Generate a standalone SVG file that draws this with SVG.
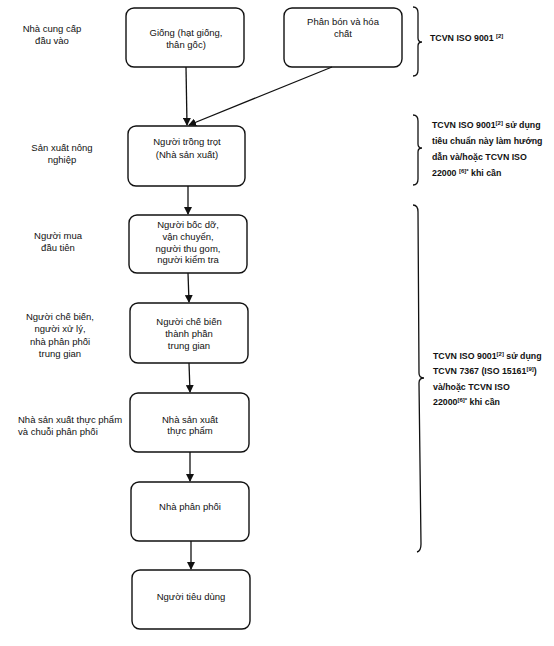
<svg xmlns="http://www.w3.org/2000/svg" width="554" height="646" viewBox="0 0 554 646">
<style>
.box{fill:#fff;stroke:#111;stroke-width:1.4}
.t{font-family:"Liberation Sans",Arial,sans-serif;font-size:9.5px;fill:#111;text-anchor:middle}
.l{font-family:"Liberation Sans",Arial,sans-serif;font-size:9.5px;fill:#111}
.b{font-family:"Liberation Sans",Arial,sans-serif;font-size:8.8px;font-weight:bold;fill:#111}
.s{font-size:6px}
.c{fill:none;stroke:#111;stroke-width:1.3}
.br{fill:none;stroke:#111;stroke-width:1.3}
</style>
<defs>
<marker id="ah" markerWidth="8" markerHeight="8" refX="7" refY="4" orient="auto" markerUnits="userSpaceOnUse">
<path d="M0,0 L8,4 L0,8 Z" fill="#111"/>
</marker>
</defs>

<g id="labels">
<text class="t" x="52" y="32">Nhà cung cấp</text>
<text class="t" x="52" y="44">đầu vào</text>
<text class="t" x="62" y="151">Sản xuất nông</text>
<text class="t" x="62" y="163">nghiệp</text>
<text class="t" x="58" y="239">Người mua</text>
<text class="t" x="58" y="251">đầu tiên</text>
<text class="t" x="60" y="320">Người chế biến,</text>
<text class="t" x="60" y="332">người xử lý,</text>
<text class="t" x="60" y="345">nhà phân phối</text>
<text class="t" x="60" y="357">trung gian</text>
<text class="l" x="18" y="423">Nhà sản xuất thực phẩm</text>
<text class="l" x="18" y="435">và chuỗi phân phối</text>
</g>

<g id="n1">
<rect class="box" x="126" y="8" width="118" height="59" rx="8"/>
<text class="t" x="186" y="36">Giống (hạt giống,</text>
<text class="t" x="186" y="48">thân gốc)</text>
</g>
<g id="n2">
<rect class="box" x="284" y="8" width="118" height="59" rx="8"/>
<text class="t" x="343" y="25">Phân bón và hóa</text>
<text class="t" x="343" y="37">chất</text>
</g>
<g id="n3">
<rect class="box" x="128" y="126" width="117" height="60" rx="8"/>
<text class="t" x="187" y="145">Người trồng trọt</text>
<text class="t" x="187" y="158">(Nhà sản xuất)</text>
</g>
<g id="n4">
<rect class="box" x="129" y="215" width="118" height="58" rx="8"/>
<text class="t" x="188" y="228">Người bốc dỡ,</text>
<text class="t" x="188" y="240">vận chuyển,</text>
<text class="t" x="188" y="252">người thu gom,</text>
<text class="t" x="188" y="263">người kiểm tra</text>
</g>
<g id="n5">
<rect class="box" x="130" y="303" width="118" height="60" rx="8"/>
<text class="t" x="189" y="325">Người chế biến</text>
<text class="t" x="189" y="337">thành phần</text>
<text class="t" x="189" y="349">trung gian</text>
</g>
<g id="n6">
<rect class="box" x="130" y="393" width="119" height="59" rx="8"/>
<text class="t" x="190" y="423">Nhà sản xuất</text>
<text class="t" x="190" y="434">thực phẩm</text>
</g>
<g id="n7">
<rect class="box" x="131" y="482" width="118" height="59" rx="8"/>
<text class="t" x="190" y="510">Nhà phân phối</text>
</g>
<g id="n8">
<rect class="box" x="132" y="570" width="118" height="59" rx="8"/>
<text class="t" x="191" y="600">Người tiêu dùng</text>
</g>

<g id="connectors">
<line class="c" x1="186" y1="67" x2="187" y2="125" marker-end="url(#ah)"/>
<line class="c" x1="332" y1="67" x2="189" y2="125" marker-end="url(#ah)"/>
<line class="c" x1="188" y1="186" x2="188" y2="214" marker-end="url(#ah)"/>
<line class="c" x1="188" y1="273" x2="189" y2="302" marker-end="url(#ah)"/>
<line class="c" x1="189" y1="363" x2="190" y2="392" marker-end="url(#ah)"/>
<line class="c" x1="190" y1="452" x2="190" y2="481" marker-end="url(#ah)"/>
<line class="c" x1="191" y1="541" x2="191" y2="569" marker-end="url(#ah)"/>
</g>

<g id="brace1">
<path class="br" d="M413,7 Q418,7 418,13 L418,38 Q418,42 422,42 Q418,42 418,46 L418,70 Q418,76 413,76"/>
<text class="b" x="430" y="41">TCVN ISO 9001 <tspan class="s" dy="-3">[2]</tspan></text>
</g>
<g id="brace2">
<path class="br" d="M413,115 Q418,115 418,121 L418,144 Q418,148 422,148 Q418,148 418,152 L418,179 Q418,185 413,185"/>
<text class="b" x="432" y="128">TCVN ISO 9001<tspan class="s" dy="-3">[2]</tspan><tspan dy="3"> sử dụng</tspan></text>
<text class="b" x="432" y="144">tiêu chuẩn này làm hướng</text>
<text class="b" x="432" y="160">dẫn và/hoặc TCVN ISO</text>
<text class="b" x="432" y="176">22000 <tspan class="s" dy="-3">[6]*</tspan><tspan dy="3"> khi cần</tspan></text>
</g>
<g id="brace3">
<path class="br" d="M413,205 Q418,205 418,212 L419,373 Q419,378 424,378 Q419,378 419,383 L421,544 Q421,551 417,552"/>
<text class="b" x="433" y="359">TCVN ISO 9001<tspan class="s" dy="-3">[2]</tspan><tspan dy="3"> sử dụng</tspan></text>
<text class="b" x="433" y="374">TCVN 7367 (ISO 15161<tspan class="s" dy="-3">[9]</tspan><tspan dy="3">)</tspan></text>
<text class="b" x="433" y="390">và/hoặc TCVN ISO</text>
<text class="b" x="433" y="405">22000<tspan class="s" dy="-3">[6]*</tspan><tspan dy="3"> khi cần</tspan></text>
</g>
</svg>
